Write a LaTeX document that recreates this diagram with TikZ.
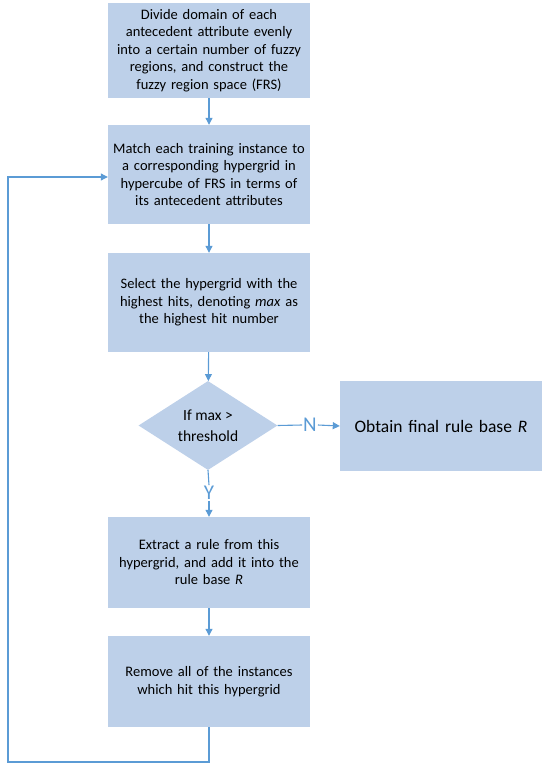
\documentclass[tikz,border=0pt]{standalone}
\usepackage{fontspec}
\setmainfont{Carlito}
\usetikzlibrary{shapes.geometric,arrows.meta}
\definecolor{boxfill}{HTML}{BDD0E9}
\definecolor{linec}{HTML}{5B9BD5}
\begin{document}
\begin{tikzpicture}[x=1pt,y=-1pt,
  stepbox/.style={draw=none,fill=boxfill,minimum width=202pt,text width=200pt,align=center,font=\fontsize{14.5}{17.5}\selectfont,inner sep=0pt},
  conn/.style={draw=linec,line width=1.1pt,-{Triangle[length=7pt,width=7pt]}},
  lbl/.style={text=linec,font=\fontsize{21}{21}\selectfont,inner sep=1pt}]
\useasboundingbox (0,0) rectangle (550,768);
\node[stepbox,minimum height=95pt] (b1) at (209,50.5) {Divide domain of each\\antecedent attribute evenly\\into a certain number of fuzzy\\regions, and construct the\\fuzzy region space (FRS)};
\node[stepbox,minimum height=99pt] (b2) at (209,174.5) {Match each training instance to\\a corresponding hypergrid in\\hypercube of FRS in terms of\\its antecedent attributes};
\node[stepbox,minimum height=99pt] (b3) at (209,302.5) {Select the hypergrid with the\\highest hits, denoting \textit{max} as\\the highest hit number};
\node[diamond,fill=boxfill,minimum width=139pt,minimum height=89pt,inner sep=0pt,aspect=1.56,align=center,font=\fontsize{15.5}{21}\selectfont] (d) at (208,425.5) {If max >\\threshold};
\node[stepbox,minimum width=202pt,minimum height=90pt,font=\fontsize{17.5}{20}\selectfont] (ob) at (441,426) {Obtain final rule base \textit{R}};
\node[stepbox,minimum height=91pt] (b4) at (209,562.5) {Extract a rule from this\\hypergrid, and add it into the\\rule base \textit{R}};
\node[stepbox,minimum height=91pt] (b5) at (209,681.5) {Remove all of the instances\\which hit this hypergrid};
\node[lbl] (n) at (310,425) {N};
\node[lbl] (y) at (209,493) {Y};
\draw[conn] (b1) -- (b2);
\draw[conn] (b2) -- (b3);
\draw[conn] (b3) -- (d);
\draw[draw=linec,line width=1.1pt] (d.east) -- (n.west);
\draw[conn] (n.east) -- (ob.west);
\draw[draw=linec,line width=1.1pt] (d.south) -- (y.north);
\draw[conn] (y.south) -- (b4);
\draw[conn] (b4) -- (b5);
\coordinate (c1) at (209,762);
\coordinate (c2) at (8,762);
\coordinate (c3) at (8,177);
\draw[conn] (b5.south) -- (c1) -- (c2) -- (c3) -- (c3 -| b2.west);
\end{tikzpicture}
\end{document}
